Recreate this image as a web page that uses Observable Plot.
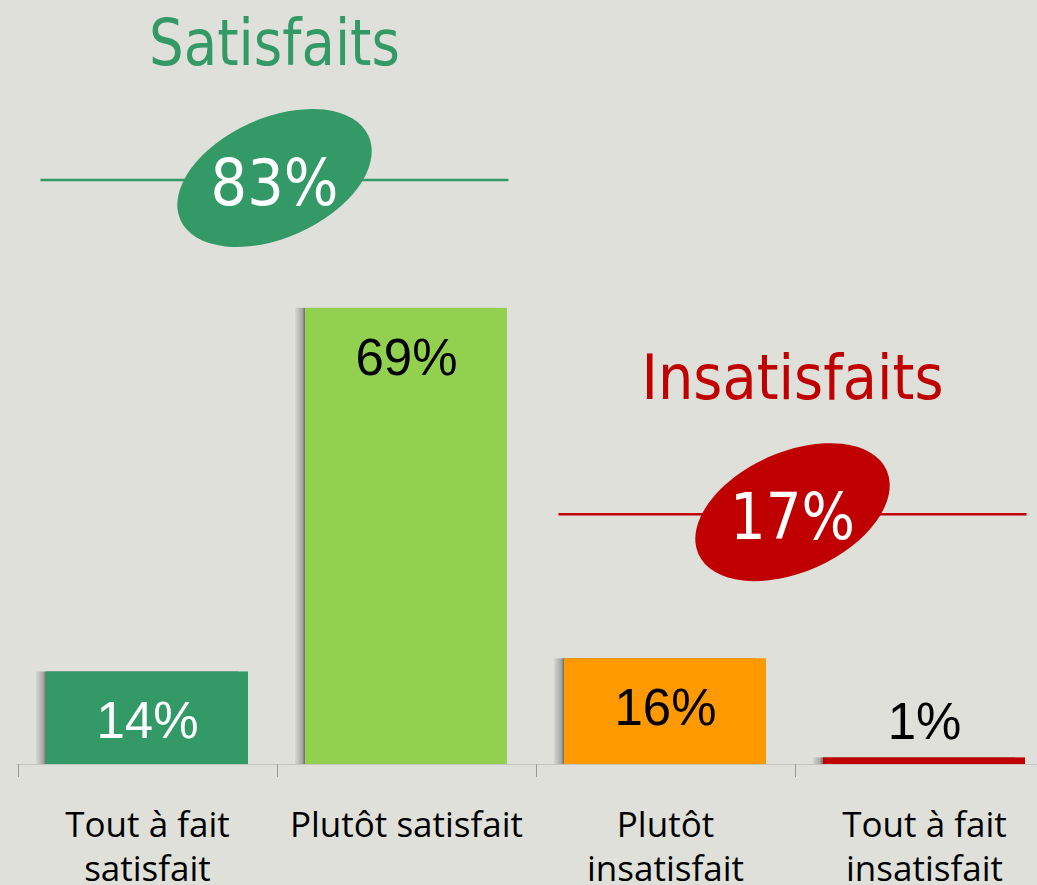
<!DOCTYPE html>
<html>
<head>
<meta charset="utf-8">
<script src="https://cdn.jsdelivr.net/npm/d3@7"></script>
<script src="https://cdn.jsdelivr.net/npm/@observablehq/plot@0.6"></script>
<style>
html, body { margin: 0; padding: 0; background: #dfe0da; overflow: hidden; }
</style>
</head>
<body>
<div id="chart"></div>
<script>
// ---- data ----
const categories = ["Tout à fait satisfait", "Plutôt satisfait", "Plutôt insatisfait", "Tout à fait insatisfait"];
const tickLabels = ["Tout à fait\nsatisfait", "Plutôt satisfait", "Plutôt\ninsatisfait", "Tout à fait\ninsatisfait"];
const values = [14, 69, 16, 1];
const groupNames = ["Satisfaits", "Insatisfaits"];
const groupTotals = [83, 17];
const groupMembers = [[0, 1], [2, 3]];

// ---- styling (options) ----
const palette = ["#339966", "#92d050", "#ff9900", "#c00000"];
const groupPalette = ["#339966", "#c00000"];
const bg = "#dfe0da";

const data = categories.map((c, i) => ({category: c, value: values[i], label: values[i] + "%", tick: tickLabels[i]}));
const colorOf = d => palette[categories.indexOf(d.category)];
const textFill = d => (d3.lab(colorOf(d)).l < 60 ? "#ffffff" : "#000000");

function defs() {
  const g = d3.create("svg:defs");
  const lg = g.append("linearGradient").attr("id", "barShadow")
    .attr("x1", 0).attr("x2", 1).attr("y1", 0).attr("y2", 0);
  lg.append("stop").attr("offset", 0).attr("stop-color", "#d6d6d2");
  lg.append("stop").attr("offset", 0.035).attr("stop-color", "#a8a8a6");
  lg.append("stop").attr("offset", 0.049).attr("stop-color", "#707070");
  lg.append("stop").attr("offset", 0.05).attr("stop-color", "#707070");
  return g.node();
}

function bandInfo(sx) {
  const bw = typeof sx.bandwidth === "function" ? sx.bandwidth() : sx.bandwidth;
  const step = sx(categories[1]) - sx(categories[0]);
  return {bw, step, left: c => sx(c) + bw / 2 - step / 2, right: c => sx(c) + bw / 2 + step / 2};
}

function ticks(index, scales) {
  const {left} = bandInfo(scales.x);
  const y0 = scales.y(0);
  const g = d3.create("svg:g").attr("stroke", "#9a9a98").attr("stroke-width", 1);
  categories.forEach(c => {
    const x = Math.round(left(c)) + 0.5;
    g.append("line").attr("x1", x).attr("x2", x).attr("y1", y0).attr("y2", y0 + 13);
  });
  return g.node();
}

// annotation layout (level in y units where each group line sits)
const annotationLevels = [88.35, 37.8];

function annotations(index, scales) {
  const sx = scales.x, sy = scales.y;
  const {left, right} = bandInfo(sx);
  const g = d3.create("svg:g");
  groupNames.forEach((name, gi) => {
    const m = groupMembers[gi];
    const x1 = left(categories[m[0]]) + 23;
    const x2 = right(categories[m[m.length - 1]]) - 27;
    const cx = (x1 + x2) / 2;
    const ly = sy(annotationLevels[gi]);
    const col = groupPalette[gi];
    g.append("line").attr("x1", x1).attr("x2", x2).attr("y1", ly).attr("y2", ly)
      .attr("stroke", col).attr("stroke-width", 2.5);
    g.append("ellipse").attr("cx", cx).attr("cy", ly - 2).attr("rx", 103).attr("ry", 60)
      .attr("transform", `rotate(-24 ${cx} ${ly - 2})`).attr("fill", col);
    g.append("text").attr("x", cx).attr("y", ly + 25).attr("text-anchor", "middle")
      .attr("font-family", "'DejaVu Sans', sans-serif").attr("font-size", 64)
      .attr("textLength", gi === 0 ? 128 : 125).attr("lengthAdjust", "spacingAndGlyphs")
      .attr("fill", "#ffffff").text(groupTotals[gi] + "%");
    g.append("text").attr("x", cx).attr("y", ly - 115).attr("text-anchor", "middle")
      .attr("font-family", "'DejaVu Sans', sans-serif").attr("font-size", gi === 0 ? 64 : 62)
      .attr("textLength", gi === 0 ? 251 : 302).attr("lengthAdjust", "spacingAndGlyphs")
      .attr("fill", col).text(name);
  });
  return g.node();
}

const plot = Plot.plot({
  width: 1037,
  height: 885,
  marginLeft: 16,
  marginRight: 0,
  marginTop: 103,
  marginBottom: 121,
  style: {background: bg, overflow: "visible"},
  x: {domain: categories, range: [16, 1054], paddingInner: 0.2216, paddingOuter: 0.1108, axis: null},
  y: {domain: [0, 100], axis: null},
  color: {domain: categories, range: palette},
  marks: [
    defs,
    Plot.ruleY([0], {stroke: "#c4c4c0", strokeWidth: 1}),
    ticks,
    Plot.barY(data, {x: "category", y: "value", fill: "url(#barShadow)", dx: -10}),
    Plot.barY(data, {x: "category", y: "value", fill: "category"}),
    Plot.text(data.filter(d => d.value >= 5), {
      x: "category", y: "value", text: "label", dy: 50, fill: textFill,
      fontSize: 51, fontFamily: "'Liberation Sans', Arial, sans-serif"
    }),
    Plot.text(data.filter(d => d.value < 5), {
      x: "category", y: "value", text: "label", dy: -35, fill: "#000000",
      fontSize: 51, fontFamily: "'Liberation Sans', Arial, sans-serif"
    }),
    Plot.text(data, {
      x: "category", text: "tick", frameAnchor: "bottom", lineAnchor: "top",
      dy: 41, fontSize: 35, lineHeight: 1.257, fill: "#000000",
      fontFamily: "'Open Sans', sans-serif"
    }),
    annotations
  ]
});
document.getElementById("chart").appendChild(plot);
</script>
</body>
</html>
